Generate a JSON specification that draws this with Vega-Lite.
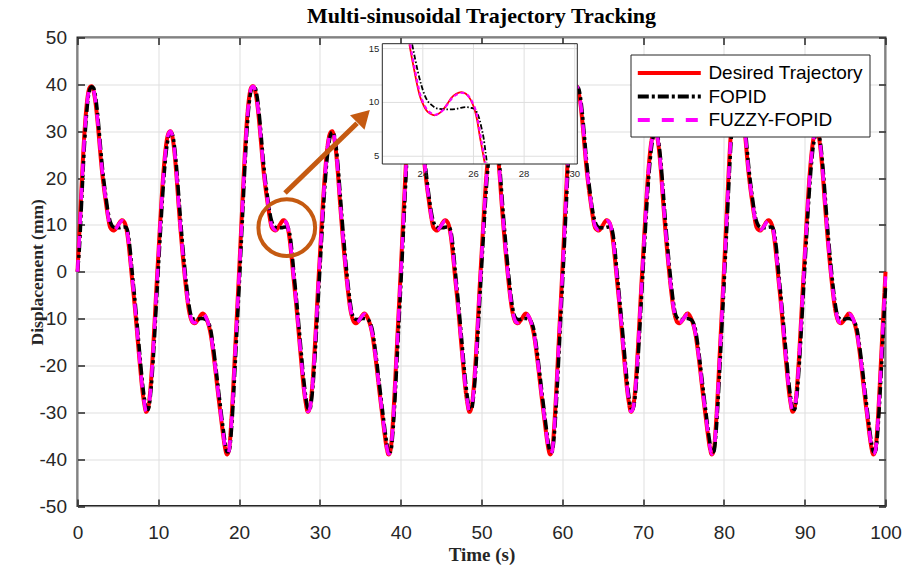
{
  "$schema": "https://vega.github.io/schema/vega-lite/v6.json",
  "width": 808,
  "height": 468.5,
  "autosize": {"type": "none"},
  "padding": {"left": 77.5, "top": 37.5, "right": 18.5, "bottom": 59},
  "background": "white",
  "title": {"text": "Multi-sinusoidal Trajectory Tracking", "font": "Liberation Serif", "fontSize": 22, "fontWeight": "bold", "color": "black", "offset": 1, "anchor": "middle"},
  "config": {
    "view": {"stroke": "#262626", "strokeWidth": 2},
    "axis": {"labelFont": "Liberation Sans", "labelFontSize": 19, "labelColor": "#262626", "titleFont": "Liberation Serif", "titleFontWeight": "bold", "titleFontSize": 19, "titleColor": "#262626", "tickColor": "#262626", "gridColor": "#dfdfdf", "gridWidth": 1, "domain": false},
    "legend": {"orient": "top-right", "offset": 16.5, "labelFont": "Liberation Sans", "labelFontSize": 19, "labelColor": "black", "symbolType": "M-3,0H3", "symbolSize": 441, "symbolOffset": 20.3, "symbolStrokeWidth": 4, "padding": 6, "strokeColor": "#262626", "fillColor": "white", "rowPadding": 0.5, "labelOffset": 26.6, "labelLimit": 400}
  },
  "datasets": {
    "main": [
{"t":0,"d":0,"f":0,"z":0},{"t":0.25,"d":9,"f":5.4,"z":7.9},{"t":0.5,"d":18,"f":14.5,"z":17},{"t":0.75,"d":26.5,"f":23.5,"z":25.6},{"t":1,"d":33,"f":30.8,"z":32.4},{"t":1.25,"d":37.3,"f":36,"z":36.9},{"t":1.5,"d":39.3,"f":38.8,"z":39.2},{"t":1.75,"d":39.6,"f":39.5,"z":39.6},{"t":2,"d":38.5,"f":39.2,"z":38.7},{"t":2.25,"d":35.8,"f":37.2,"z":36.2},{"t":2.5,"d":31.7,"f":33.5,"z":32.2},{"t":2.75,"d":26.8,"f":28.7,"z":27.4},{"t":3,"d":22,"f":23.7,"z":22.5},{"t":3.25,"d":18.2,"f":19.6,"z":18.6},{"t":3.5,"d":15,"f":16.2,"z":15.4},{"t":3.75,"d":12,"f":13.1,"z":12.3},{"t":4,"d":9.7,"f":11,"z":10},{"t":4.25,"d":9,"f":9.9,"z":9.2},{"t":4.5,"d":8.8,"f":9.5,"z":8.9},{"t":4.75,"d":9.2,"f":9.4,"z":9.2},{"t":5,"d":9.9,"f":9.4,"z":9.8},{"t":5.25,"d":10.6,"f":9.4,"z":10.5},{"t":5.5,"d":11,"f":9.5,"z":10.9},{"t":5.75,"d":10.7,"f":9.55,"z":10.7},{"t":6,"d":9.6,"f":9.5,"z":9.8},{"t":6.25,"d":7,"f":8.3,"z":7.4},{"t":6.5,"d":3,"f":5,"z":3.5},{"t":6.75,"d":-1.5,"f":0.3,"z":-1},{"t":7,"d":-5.8,"f":-4.1,"z":-5.3},{"t":7.25,"d":-10.5,"f":-8.6,"z":-10},{"t":7.5,"d":-15.5,"f":-13.5,"z":-15},{"t":7.75,"d":-20.3,"f":-18.4,"z":-19.8},{"t":8,"d":-24.8,"f":-23,"z":-24.4},{"t":8.25,"d":-28,"f":-26.7,"z":-27.7},{"t":8.5,"d":-29.9,"f":-29.1,"z":-29.8},{"t":8.75,"d":-29,"f":-29.4,"z":-29.2},{"t":9,"d":-25.5,"f":-26.9,"z":-26},{"t":9.25,"d":-19.5,"f":-21.9,"z":-20.2},{"t":9.5,"d":-12,"f":-15,"z":-12.7},{"t":9.75,"d":-4,"f":-7.2,"z":-4.7},{"t":10,"d":3.5,"f":0.5,"z":2.8},{"t":10.25,"d":11,"f":8,"z":10.3},{"t":10.5,"d":18,"f":15.2,"z":17.3},{"t":10.75,"d":23.5,"f":21.3,"z":23},{"t":11,"d":27.5,"f":25.9,"z":27.2},{"t":11.25,"d":29.5,"f":28.7,"z":29.4},{"t":11.5,"d":30,"f":29.8,"z":30},{"t":11.75,"d":28.8,"f":29.3,"z":29},{"t":12,"d":25.5,"f":26.8,"z":25.9},{"t":12.25,"d":20.5,"f":22.5,"z":21},{"t":12.5,"d":14.5,"f":16.9,"z":15.1},{"t":12.75,"d":9,"f":11.2,"z":9.5},{"t":13,"d":4,"f":6,"z":4.5},{"t":13.25,"d":-0.5,"f":1.3,"z":-0.1},{"t":13.5,"d":-4.5,"f":-2.9,"z":-4.1},{"t":13.75,"d":-7.8,"f":-6.5,"z":-7.5},{"t":14,"d":-9.8,"f":-9,"z":-9.6},{"t":14.25,"d":-10.8,"f":-9.9,"z":-10.7},{"t":14.5,"d":-11,"f":-10.2,"z":-10.9},{"t":14.75,"d":-10.6,"f":-10.2,"z":-10.6},{"t":15,"d":-10,"f":-10.1,"z":-10},{"t":15.25,"d":-9.3,"f":-10,"z":-9.4},{"t":15.5,"d":-8.9,"f":-10,"z":-9},{"t":15.75,"d":-9.3,"f":-10.1,"z":-9.3},{"t":16,"d":-10.2,"f":-10.3,"z":-10.1},{"t":16.25,"d":-11.5,"f":-11,"z":-11.4},{"t":16.5,"d":-13.5,"f":-12.5,"z":-13.3},{"t":16.75,"d":-16.5,"f":-15.3,"z":-16.2},{"t":17,"d":-20,"f":-18.6,"z":-19.6},{"t":17.25,"d":-23.8,"f":-22.3,"z":-23.4},{"t":17.5,"d":-27.5,"f":-26,"z":-27.1},{"t":17.75,"d":-31,"f":-29.6,"z":-30.6},{"t":18,"d":-34.5,"f":-33.1,"z":-34.1},{"t":18.25,"d":-37.5,"f":-36.3,"z":-37.2},{"t":18.5,"d":-39,"f":-38.4,"z":-38.9},{"t":18.75,"d":-38,"f":-38.4,"z":-38.2},{"t":19,"d":-33,"f":-35,"z":-33.6},{"t":19.25,"d":-25.5,"f":-28.5,"z":-26.3},{"t":19.5,"d":-17,"f":-20.4,"z":-17.8},{"t":19.75,"d":-8.5,"f":-11.9,"z":-9.3},
{"t":20,"d":0,"f":-3.5,"z":-1},{"t":20.25,"d":9,"f":5.4,"z":7.9},{"t":20.5,"d":18,"f":14.5,"z":17},{"t":20.75,"d":26.5,"f":23.5,"z":25.6},{"t":21,"d":33,"f":30.8,"z":32.4},{"t":21.25,"d":37.3,"f":36,"z":36.9},{"t":21.5,"d":39.3,"f":38.8,"z":39.2},{"t":21.75,"d":39.6,"f":39.5,"z":39.6},{"t":22,"d":38.5,"f":39.2,"z":38.7},{"t":22.25,"d":35.8,"f":37.2,"z":36.2},{"t":22.5,"d":31.7,"f":33.5,"z":32.2},{"t":22.75,"d":26.8,"f":28.7,"z":27.4},{"t":23,"d":22,"f":23.7,"z":22.5},{"t":23.25,"d":18.2,"f":19.6,"z":18.6},{"t":23.5,"d":15,"f":16.2,"z":15.4},{"t":23.75,"d":12,"f":13.1,"z":12.3},{"t":24,"d":9.7,"f":11,"z":10},{"t":24.25,"d":9,"f":9.9,"z":9.2},{"t":24.5,"d":8.8,"f":9.5,"z":8.9},{"t":24.75,"d":9.2,"f":9.4,"z":9.2},{"t":25,"d":9.9,"f":9.4,"z":9.8},{"t":25.25,"d":10.6,"f":9.4,"z":10.5},{"t":25.5,"d":11,"f":9.5,"z":10.9},{"t":25.75,"d":10.7,"f":9.55,"z":10.7},{"t":26,"d":9.6,"f":9.5,"z":9.8},{"t":26.25,"d":7,"f":8.3,"z":7.4},{"t":26.5,"d":3,"f":5,"z":3.5},{"t":26.75,"d":-1.5,"f":0.3,"z":-1},{"t":27,"d":-5.8,"f":-4.1,"z":-5.3},{"t":27.25,"d":-10.5,"f":-8.6,"z":-10},{"t":27.5,"d":-15.5,"f":-13.5,"z":-15},{"t":27.75,"d":-20.3,"f":-18.4,"z":-19.8},{"t":28,"d":-24.8,"f":-23,"z":-24.4},{"t":28.25,"d":-28,"f":-26.7,"z":-27.7},{"t":28.5,"d":-29.9,"f":-29.1,"z":-29.8},{"t":28.75,"d":-29,"f":-29.4,"z":-29.2},{"t":29,"d":-25.5,"f":-26.9,"z":-26},{"t":29.25,"d":-19.5,"f":-21.9,"z":-20.2},{"t":29.5,"d":-12,"f":-15,"z":-12.7},{"t":29.75,"d":-4,"f":-7.2,"z":-4.7},{"t":30,"d":3.5,"f":0.5,"z":2.8},{"t":30.25,"d":11,"f":8,"z":10.3},{"t":30.5,"d":18,"f":15.2,"z":17.3},{"t":30.75,"d":23.5,"f":21.3,"z":23},{"t":31,"d":27.5,"f":25.9,"z":27.2},{"t":31.25,"d":29.5,"f":28.7,"z":29.4},{"t":31.5,"d":30,"f":29.8,"z":30},{"t":31.75,"d":28.8,"f":29.3,"z":29},{"t":32,"d":25.5,"f":26.8,"z":25.9},{"t":32.25,"d":20.5,"f":22.5,"z":21},{"t":32.5,"d":14.5,"f":16.9,"z":15.1},{"t":32.75,"d":9,"f":11.2,"z":9.5},{"t":33,"d":4,"f":6,"z":4.5},{"t":33.25,"d":-0.5,"f":1.3,"z":-0.1},{"t":33.5,"d":-4.5,"f":-2.9,"z":-4.1},{"t":33.75,"d":-7.8,"f":-6.5,"z":-7.5},{"t":34,"d":-9.8,"f":-9,"z":-9.6},{"t":34.25,"d":-10.8,"f":-9.9,"z":-10.7},{"t":34.5,"d":-11,"f":-10.2,"z":-10.9},{"t":34.75,"d":-10.6,"f":-10.2,"z":-10.6},{"t":35,"d":-10,"f":-10.1,"z":-10},{"t":35.25,"d":-9.3,"f":-10,"z":-9.4},{"t":35.5,"d":-8.9,"f":-10,"z":-9},{"t":35.75,"d":-9.3,"f":-10.1,"z":-9.3},{"t":36,"d":-10.2,"f":-10.3,"z":-10.1},{"t":36.25,"d":-11.5,"f":-11,"z":-11.4},{"t":36.5,"d":-13.5,"f":-12.5,"z":-13.3},{"t":36.75,"d":-16.5,"f":-15.3,"z":-16.2},{"t":37,"d":-20,"f":-18.6,"z":-19.6},{"t":37.25,"d":-23.8,"f":-22.3,"z":-23.4},{"t":37.5,"d":-27.5,"f":-26,"z":-27.1},{"t":37.75,"d":-31,"f":-29.6,"z":-30.6},{"t":38,"d":-34.5,"f":-33.1,"z":-34.1},{"t":38.25,"d":-37.5,"f":-36.3,"z":-37.2},{"t":38.5,"d":-39,"f":-38.4,"z":-38.9},{"t":38.75,"d":-38,"f":-38.4,"z":-38.2},{"t":39,"d":-33,"f":-35,"z":-33.6},{"t":39.25,"d":-25.5,"f":-28.5,"z":-26.3},{"t":39.5,"d":-17,"f":-20.4,"z":-17.8},{"t":39.75,"d":-8.5,"f":-11.9,"z":-9.3},
{"t":40,"d":0,"f":-3.5,"z":-1},{"t":40.25,"d":9,"f":5.4,"z":7.9},{"t":40.5,"d":18,"f":14.5,"z":17},{"t":40.75,"d":26.5,"f":23.5,"z":25.6},{"t":41,"d":33,"f":30.8,"z":32.4},{"t":41.25,"d":37.3,"f":36,"z":36.9},{"t":41.5,"d":39.3,"f":38.8,"z":39.2},{"t":41.75,"d":39.6,"f":39.5,"z":39.6},{"t":42,"d":38.5,"f":39.2,"z":38.7},{"t":42.25,"d":35.8,"f":37.2,"z":36.2},{"t":42.5,"d":31.7,"f":33.5,"z":32.2},{"t":42.75,"d":26.8,"f":28.7,"z":27.4},{"t":43,"d":22,"f":23.7,"z":22.5},{"t":43.25,"d":18.2,"f":19.6,"z":18.6},{"t":43.5,"d":15,"f":16.2,"z":15.4},{"t":43.75,"d":12,"f":13.1,"z":12.3},{"t":44,"d":9.7,"f":11,"z":10},{"t":44.25,"d":9,"f":9.9,"z":9.2},{"t":44.5,"d":8.8,"f":9.5,"z":8.9},{"t":44.75,"d":9.2,"f":9.4,"z":9.2},{"t":45,"d":9.9,"f":9.4,"z":9.8},{"t":45.25,"d":10.6,"f":9.4,"z":10.5},{"t":45.5,"d":11,"f":9.5,"z":10.9},{"t":45.75,"d":10.7,"f":9.55,"z":10.7},{"t":46,"d":9.6,"f":9.5,"z":9.8},{"t":46.25,"d":7,"f":8.3,"z":7.4},{"t":46.5,"d":3,"f":5,"z":3.5},{"t":46.75,"d":-1.5,"f":0.3,"z":-1},{"t":47,"d":-5.8,"f":-4.1,"z":-5.3},{"t":47.25,"d":-10.5,"f":-8.6,"z":-10},{"t":47.5,"d":-15.5,"f":-13.5,"z":-15},{"t":47.75,"d":-20.3,"f":-18.4,"z":-19.8},{"t":48,"d":-24.8,"f":-23,"z":-24.4},{"t":48.25,"d":-28,"f":-26.7,"z":-27.7},{"t":48.5,"d":-29.9,"f":-29.1,"z":-29.8},{"t":48.75,"d":-29,"f":-29.4,"z":-29.2},{"t":49,"d":-25.5,"f":-26.9,"z":-26},{"t":49.25,"d":-19.5,"f":-21.9,"z":-20.2},{"t":49.5,"d":-12,"f":-15,"z":-12.7},{"t":49.75,"d":-4,"f":-7.2,"z":-4.7},{"t":50,"d":3.5,"f":0.5,"z":2.8},{"t":50.25,"d":11,"f":8,"z":10.3},{"t":50.5,"d":18,"f":15.2,"z":17.3},{"t":50.75,"d":23.5,"f":21.3,"z":23},{"t":51,"d":27.5,"f":25.9,"z":27.2},{"t":51.25,"d":29.5,"f":28.7,"z":29.4},{"t":51.5,"d":30,"f":29.8,"z":30},{"t":51.75,"d":28.8,"f":29.3,"z":29},{"t":52,"d":25.5,"f":26.8,"z":25.9},{"t":52.25,"d":20.5,"f":22.5,"z":21},{"t":52.5,"d":14.5,"f":16.9,"z":15.1},{"t":52.75,"d":9,"f":11.2,"z":9.5},{"t":53,"d":4,"f":6,"z":4.5},{"t":53.25,"d":-0.5,"f":1.3,"z":-0.1},{"t":53.5,"d":-4.5,"f":-2.9,"z":-4.1},{"t":53.75,"d":-7.8,"f":-6.5,"z":-7.5},{"t":54,"d":-9.8,"f":-9,"z":-9.6},{"t":54.25,"d":-10.8,"f":-9.9,"z":-10.7},{"t":54.5,"d":-11,"f":-10.2,"z":-10.9},{"t":54.75,"d":-10.6,"f":-10.2,"z":-10.6},{"t":55,"d":-10,"f":-10.1,"z":-10},{"t":55.25,"d":-9.3,"f":-10,"z":-9.4},{"t":55.5,"d":-8.9,"f":-10,"z":-9},{"t":55.75,"d":-9.3,"f":-10.1,"z":-9.3},{"t":56,"d":-10.2,"f":-10.3,"z":-10.1},{"t":56.25,"d":-11.5,"f":-11,"z":-11.4},{"t":56.5,"d":-13.5,"f":-12.5,"z":-13.3},{"t":56.75,"d":-16.5,"f":-15.3,"z":-16.2},{"t":57,"d":-20,"f":-18.6,"z":-19.6},{"t":57.25,"d":-23.8,"f":-22.3,"z":-23.4},{"t":57.5,"d":-27.5,"f":-26,"z":-27.1},{"t":57.75,"d":-31,"f":-29.6,"z":-30.6},{"t":58,"d":-34.5,"f":-33.1,"z":-34.1},{"t":58.25,"d":-37.5,"f":-36.3,"z":-37.2},{"t":58.5,"d":-39,"f":-38.4,"z":-38.9},{"t":58.75,"d":-38,"f":-38.4,"z":-38.2},{"t":59,"d":-33,"f":-35,"z":-33.6},{"t":59.25,"d":-25.5,"f":-28.5,"z":-26.3},{"t":59.5,"d":-17,"f":-20.4,"z":-17.8},{"t":59.75,"d":-8.5,"f":-11.9,"z":-9.3},
{"t":60,"d":0,"f":-3.5,"z":-1},{"t":60.25,"d":9,"f":5.4,"z":7.9},{"t":60.5,"d":18,"f":14.5,"z":17},{"t":60.75,"d":26.5,"f":23.5,"z":25.6},{"t":61,"d":33,"f":30.8,"z":32.4},{"t":61.25,"d":37.3,"f":36,"z":36.9},{"t":61.5,"d":39.3,"f":38.8,"z":39.2},{"t":61.75,"d":39.6,"f":39.5,"z":39.6},{"t":62,"d":38.5,"f":39.2,"z":38.7},{"t":62.25,"d":35.8,"f":37.2,"z":36.2},{"t":62.5,"d":31.7,"f":33.5,"z":32.2},{"t":62.75,"d":26.8,"f":28.7,"z":27.4},{"t":63,"d":22,"f":23.7,"z":22.5},{"t":63.25,"d":18.2,"f":19.6,"z":18.6},{"t":63.5,"d":15,"f":16.2,"z":15.4},{"t":63.75,"d":12,"f":13.1,"z":12.3},{"t":64,"d":9.7,"f":11,"z":10},{"t":64.25,"d":9,"f":9.9,"z":9.2},{"t":64.5,"d":8.8,"f":9.5,"z":8.9},{"t":64.75,"d":9.2,"f":9.4,"z":9.2},{"t":65,"d":9.9,"f":9.4,"z":9.8},{"t":65.25,"d":10.6,"f":9.4,"z":10.5},{"t":65.5,"d":11,"f":9.5,"z":10.9},{"t":65.75,"d":10.7,"f":9.55,"z":10.7},{"t":66,"d":9.6,"f":9.5,"z":9.8},{"t":66.25,"d":7,"f":8.3,"z":7.4},{"t":66.5,"d":3,"f":5,"z":3.5},{"t":66.75,"d":-1.5,"f":0.3,"z":-1},{"t":67,"d":-5.8,"f":-4.1,"z":-5.3},{"t":67.25,"d":-10.5,"f":-8.6,"z":-10},{"t":67.5,"d":-15.5,"f":-13.5,"z":-15},{"t":67.75,"d":-20.3,"f":-18.4,"z":-19.8},{"t":68,"d":-24.8,"f":-23,"z":-24.4},{"t":68.25,"d":-28,"f":-26.7,"z":-27.7},{"t":68.5,"d":-29.9,"f":-29.1,"z":-29.8},{"t":68.75,"d":-29,"f":-29.4,"z":-29.2},{"t":69,"d":-25.5,"f":-26.9,"z":-26},{"t":69.25,"d":-19.5,"f":-21.9,"z":-20.2},{"t":69.5,"d":-12,"f":-15,"z":-12.7},{"t":69.75,"d":-4,"f":-7.2,"z":-4.7},{"t":70,"d":3.5,"f":0.5,"z":2.8},{"t":70.25,"d":11,"f":8,"z":10.3},{"t":70.5,"d":18,"f":15.2,"z":17.3},{"t":70.75,"d":23.5,"f":21.3,"z":23},{"t":71,"d":27.5,"f":25.9,"z":27.2},{"t":71.25,"d":29.5,"f":28.7,"z":29.4},{"t":71.5,"d":30,"f":29.8,"z":30},{"t":71.75,"d":28.8,"f":29.3,"z":29},{"t":72,"d":25.5,"f":26.8,"z":25.9},{"t":72.25,"d":20.5,"f":22.5,"z":21},{"t":72.5,"d":14.5,"f":16.9,"z":15.1},{"t":72.75,"d":9,"f":11.2,"z":9.5},{"t":73,"d":4,"f":6,"z":4.5},{"t":73.25,"d":-0.5,"f":1.3,"z":-0.1},{"t":73.5,"d":-4.5,"f":-2.9,"z":-4.1},{"t":73.75,"d":-7.8,"f":-6.5,"z":-7.5},{"t":74,"d":-9.8,"f":-9,"z":-9.6},{"t":74.25,"d":-10.8,"f":-9.9,"z":-10.7},{"t":74.5,"d":-11,"f":-10.2,"z":-10.9},{"t":74.75,"d":-10.6,"f":-10.2,"z":-10.6},{"t":75,"d":-10,"f":-10.1,"z":-10},{"t":75.25,"d":-9.3,"f":-10,"z":-9.4},{"t":75.5,"d":-8.9,"f":-10,"z":-9},{"t":75.75,"d":-9.3,"f":-10.1,"z":-9.3},{"t":76,"d":-10.2,"f":-10.3,"z":-10.1},{"t":76.25,"d":-11.5,"f":-11,"z":-11.4},{"t":76.5,"d":-13.5,"f":-12.5,"z":-13.3},{"t":76.75,"d":-16.5,"f":-15.3,"z":-16.2},{"t":77,"d":-20,"f":-18.6,"z":-19.6},{"t":77.25,"d":-23.8,"f":-22.3,"z":-23.4},{"t":77.5,"d":-27.5,"f":-26,"z":-27.1},{"t":77.75,"d":-31,"f":-29.6,"z":-30.6},{"t":78,"d":-34.5,"f":-33.1,"z":-34.1},{"t":78.25,"d":-37.5,"f":-36.3,"z":-37.2},{"t":78.5,"d":-39,"f":-38.4,"z":-38.9},{"t":78.75,"d":-38,"f":-38.4,"z":-38.2},{"t":79,"d":-33,"f":-35,"z":-33.6},{"t":79.25,"d":-25.5,"f":-28.5,"z":-26.3},{"t":79.5,"d":-17,"f":-20.4,"z":-17.8},{"t":79.75,"d":-8.5,"f":-11.9,"z":-9.3},
{"t":80,"d":0,"f":-3.5,"z":-1},{"t":80.25,"d":9,"f":5.4,"z":7.9},{"t":80.5,"d":18,"f":14.5,"z":17},{"t":80.75,"d":26.5,"f":23.5,"z":25.6},{"t":81,"d":33,"f":30.8,"z":32.4},{"t":81.25,"d":37.3,"f":36,"z":36.9},{"t":81.5,"d":39.3,"f":38.8,"z":39.2},{"t":81.75,"d":39.6,"f":39.5,"z":39.6},{"t":82,"d":38.5,"f":39.2,"z":38.7},{"t":82.25,"d":35.8,"f":37.2,"z":36.2},{"t":82.5,"d":31.7,"f":33.5,"z":32.2},{"t":82.75,"d":26.8,"f":28.7,"z":27.4},{"t":83,"d":22,"f":23.7,"z":22.5},{"t":83.25,"d":18.2,"f":19.6,"z":18.6},{"t":83.5,"d":15,"f":16.2,"z":15.4},{"t":83.75,"d":12,"f":13.1,"z":12.3},{"t":84,"d":9.7,"f":11,"z":10},{"t":84.25,"d":9,"f":9.9,"z":9.2},{"t":84.5,"d":8.8,"f":9.5,"z":8.9},{"t":84.75,"d":9.2,"f":9.4,"z":9.2},{"t":85,"d":9.9,"f":9.4,"z":9.8},{"t":85.25,"d":10.6,"f":9.4,"z":10.5},{"t":85.5,"d":11,"f":9.5,"z":10.9},{"t":85.75,"d":10.7,"f":9.55,"z":10.7},{"t":86,"d":9.6,"f":9.5,"z":9.8},{"t":86.25,"d":7,"f":8.3,"z":7.4},{"t":86.5,"d":3,"f":5,"z":3.5},{"t":86.75,"d":-1.5,"f":0.3,"z":-1},{"t":87,"d":-5.8,"f":-4.1,"z":-5.3},{"t":87.25,"d":-10.5,"f":-8.6,"z":-10},{"t":87.5,"d":-15.5,"f":-13.5,"z":-15},{"t":87.75,"d":-20.3,"f":-18.4,"z":-19.8},{"t":88,"d":-24.8,"f":-23,"z":-24.4},{"t":88.25,"d":-28,"f":-26.7,"z":-27.7},{"t":88.5,"d":-29.9,"f":-29.1,"z":-29.8},{"t":88.75,"d":-29,"f":-29.4,"z":-29.2},{"t":89,"d":-25.5,"f":-26.9,"z":-26},{"t":89.25,"d":-19.5,"f":-21.9,"z":-20.2},{"t":89.5,"d":-12,"f":-15,"z":-12.7},{"t":89.75,"d":-4,"f":-7.2,"z":-4.7},{"t":90,"d":3.5,"f":0.5,"z":2.8},{"t":90.25,"d":11,"f":8,"z":10.3},{"t":90.5,"d":18,"f":15.2,"z":17.3},{"t":90.75,"d":23.5,"f":21.3,"z":23},{"t":91,"d":27.5,"f":25.9,"z":27.2},{"t":91.25,"d":29.5,"f":28.7,"z":29.4},{"t":91.5,"d":30,"f":29.8,"z":30},{"t":91.75,"d":28.8,"f":29.3,"z":29},{"t":92,"d":25.5,"f":26.8,"z":25.9},{"t":92.25,"d":20.5,"f":22.5,"z":21},{"t":92.5,"d":14.5,"f":16.9,"z":15.1},{"t":92.75,"d":9,"f":11.2,"z":9.5},{"t":93,"d":4,"f":6,"z":4.5},{"t":93.25,"d":-0.5,"f":1.3,"z":-0.1},{"t":93.5,"d":-4.5,"f":-2.9,"z":-4.1},{"t":93.75,"d":-7.8,"f":-6.5,"z":-7.5},{"t":94,"d":-9.8,"f":-9,"z":-9.6},{"t":94.25,"d":-10.8,"f":-9.9,"z":-10.7},{"t":94.5,"d":-11,"f":-10.2,"z":-10.9},{"t":94.75,"d":-10.6,"f":-10.2,"z":-10.6},{"t":95,"d":-10,"f":-10.1,"z":-10},{"t":95.25,"d":-9.3,"f":-10,"z":-9.4},{"t":95.5,"d":-8.9,"f":-10,"z":-9},{"t":95.75,"d":-9.3,"f":-10.1,"z":-9.3},{"t":96,"d":-10.2,"f":-10.3,"z":-10.1},{"t":96.25,"d":-11.5,"f":-11,"z":-11.4},{"t":96.5,"d":-13.5,"f":-12.5,"z":-13.3},{"t":96.75,"d":-16.5,"f":-15.3,"z":-16.2},{"t":97,"d":-20,"f":-18.6,"z":-19.6},{"t":97.25,"d":-23.8,"f":-22.3,"z":-23.4},{"t":97.5,"d":-27.5,"f":-26,"z":-27.1},{"t":97.75,"d":-31,"f":-29.6,"z":-30.6},{"t":98,"d":-34.5,"f":-33.1,"z":-34.1},{"t":98.25,"d":-37.5,"f":-36.3,"z":-37.2},{"t":98.5,"d":-39,"f":-38.4,"z":-38.9},{"t":98.75,"d":-38,"f":-38.4,"z":-38.2},{"t":99,"d":-33,"f":-35,"z":-33.6},{"t":99.25,"d":-25.5,"f":-28.5,"z":-26.3},{"t":99.5,"d":-17,"f":-20.4,"z":-17.8},{"t":99.75,"d":-8.5,"f":-11.9,"z":-9.3},
{"t":100,"d":0,"f":-3.5,"z":-1}
    ],
    "insetD": [
{"t":23.47,"y":15.4},{"t":23.57,"y":14.1},{"t":23.67,"y":12.9},{"t":23.77,"y":11.7},{"t":23.87,"y":10.7},{"t":24.0,"y":9.9},{"t":24.13,"y":9.3},{"t":24.3,"y":8.95},{"t":24.46,"y":8.8},{"t":24.62,"y":8.95},{"t":24.79,"y":9.3},{"t":24.95,"y":9.8},{"t":25.12,"y":10.4},{"t":25.32,"y":10.8},{"t":25.52,"y":10.96},{"t":25.7,"y":10.8},{"t":25.85,"y":10.4},{"t":25.95,"y":9.95},{"t":26.05,"y":9.3},{"t":26.15,"y":8.3},{"t":26.24,"y":7.0},{"t":26.34,"y":5.7},{"t":26.44,"y":4.4}
    ],
    "insetF": [
{"t":23.58,"y":15.4},{"t":23.7,"y":14.0},{"t":23.8,"y":12.9},{"t":23.93,"y":11.7},{"t":24.07,"y":10.7},{"t":24.2,"y":10.1},{"t":24.33,"y":9.8},{"t":24.5,"y":9.5},{"t":24.66,"y":9.4},{"t":25.0,"y":9.35},{"t":25.32,"y":9.4},{"t":25.5,"y":9.5},{"t":25.72,"y":9.56},{"t":25.9,"y":9.5},{"t":26.05,"y":9.4},{"t":26.15,"y":9.0},{"t":26.24,"y":8.4},{"t":26.32,"y":7.6},{"t":26.4,"y":6.7},{"t":26.47,"y":5.5},{"t":26.53,"y":4.4}
    ],
    "insetZ": [
{"t":23.5,"y":15.4},{"t":23.6,"y":14.1},{"t":23.7,"y":12.9},{"t":23.8,"y":11.7},{"t":23.9,"y":10.7},{"t":24.03,"y":9.9},{"t":24.16,"y":9.35},{"t":24.33,"y":9.0},{"t":24.49,"y":8.85},{"t":24.65,"y":9.0},{"t":24.82,"y":9.35},{"t":24.98,"y":9.85},{"t":25.15,"y":10.4},{"t":25.35,"y":10.75},{"t":25.55,"y":10.9},{"t":25.73,"y":10.75},{"t":25.88,"y":10.35},{"t":25.98,"y":9.9},{"t":26.08,"y":9.3},{"t":26.18,"y":8.3},{"t":26.27,"y":7.0},{"t":26.37,"y":5.7},{"t":26.47,"y":4.4}
    ]
  },
  "layer": [
    {
      "layer": [
        {
          "data": {"name": "main"},
          "mark": {"type": "line", "strokeWidth": 4, "interpolate": "monotone", "strokeCap": "butt"},
          "encoding": {
            "x": {"field": "t", "type": "quantitative", "scale": {"domain": [0, 100], "nice": false, "zero": false},
                  "axis": {"orient": "bottom", "title": "Time (s)", "values": [0,10,20,30,40,50,60,70,80,90,100], "grid": true, "tickSize": -7, "tickWidth": 1.5, "labelPadding": 24, "titlePadding": 3, "labelFlush": false}},
            "y": {"field": "d", "type": "quantitative", "scale": {"domain": [-50, 50], "nice": false, "zero": false},
                  "axis": {"orient": "left", "title": "Displacement (mm)", "titleFontSize": 17.5, "values": [-50,-40,-30,-20,-10,0,10,20,30,40,50], "labelExpr": "toString(datum.value)", "grid": true, "tickSize": -7, "tickWidth": 1.5, "labelPadding": 18, "titlePadding": -7}},
            "color": {"datum": "Desired Trajectory", "title": null, "scale": {"domain": ["Desired Trajectory", "FOPID", "FUZZY-FOPID"], "range": ["#ff0000", "#000000", "#ff00ff"]}},
            "strokeDash": {"datum": "Desired Trajectory", "title": null, "scale": {"domain": ["Desired Trajectory", "FOPID", "FUZZY-FOPID"], "range": [[1, 0], [11, 3, 3, 3], [12, 12]]}}
          }
        },
        {
          "data": {"name": "main"},
          "mark": {"type": "line", "strokeWidth": 3.5, "interpolate": "monotone", "strokeCap": "butt"},
          "encoding": {
            "x": {"field": "t", "type": "quantitative", "scale": {"domain": [0, 100], "nice": false, "zero": false},
                  "axis": {"orient": "top", "labels": false, "title": null, "grid": false, "values": [0,10,20,30,40,50,60,70,80,90,100], "tickSize": -7, "tickWidth": 1.5}},
            "y": {"field": "f", "type": "quantitative", "scale": {"domain": [-50, 50], "nice": false, "zero": false},
                  "axis": {"orient": "right", "labels": false, "title": null, "grid": false, "values": [-50,-40,-30,-20,-10,0,10,20,30,40,50], "tickSize": -7, "tickWidth": 1.5}},
            "color": {"datum": "FOPID", "title": null},
            "strokeDash": {"datum": "FOPID", "title": null}
          }
        },
        {
          "data": {"name": "main"},
          "mark": {"type": "line", "strokeWidth": 3.5, "interpolate": "monotone", "strokeCap": "butt"},
          "encoding": {
            "x": {"field": "t", "type": "quantitative", "axis": null},
            "y": {"field": "z", "type": "quantitative", "axis": null},
            "color": {"datum": "FUZZY-FOPID", "title": null},
            "strokeDash": {"datum": "FUZZY-FOPID", "title": null}
          }
        },
        {
          "data": {"values": [{"t": 25.9, "y": 9.4}]},
          "mark": {"type": "point", "shape": "circle", "filled": false, "size": 3217, "stroke": "#C55A11", "strokeWidth": 4, "opacity": 1},
          "encoding": {
            "x": {"field": "t", "type": "quantitative", "axis": null},
            "y": {"field": "y", "type": "quantitative", "axis": null}
          }
        },
        {
          "data": {"values": [{"t": 25.68, "y": 16.8}, {"t": 34.6, "y": 31.7}]},
          "mark": {"type": "line", "stroke": "#C55A11", "strokeWidth": 5, "strokeCap": "butt"},
          "encoding": {
            "x": {"field": "t", "type": "quantitative", "axis": null},
            "y": {"field": "y", "type": "quantitative", "axis": null}
          }
        },
        {
          "data": {"values": [{"t": 35.4, "y": 33.2}]},
          "mark": {"type": "point", "shape": "triangle-up", "filled": true, "size": 420, "angle": 45, "fill": "#C55A11", "opacity": 1, "strokeWidth": 0},
          "encoding": {
            "x": {"field": "t", "type": "quantitative", "axis": null},
            "y": {"field": "y", "type": "quantitative", "axis": null}
          }
        }
      ],
      "resolve": {"axis": {"x": "independent", "y": "independent"}}
    },
    {
      "layer": [
        {
          "data": {"values": [{"x1": 22.4, "x2": 30.1, "y1": 4.28, "y2": 15.46}]},
          "mark": {"type": "rect", "fill": "white", "strokeWidth": 0},
          "encoding": {
            "x": {"field": "x1", "type": "quantitative", "scale": {"domain": [22.4, 30.1], "range": [304.8, 499.8], "nice": false, "zero": false}, "axis": null},
            "x2": {"field": "x2"},
            "y": {"field": "y1", "type": "quantitative", "scale": {"domain": [4.28, 15.46], "range": [126.5, 6.2], "nice": false, "zero": false}, "axis": null},
            "y2": {"field": "y2"}
          }
        },
        {
          "data": {"values": [{"g": 24}, {"g": 26}, {"g": 28}, {"g": 30}]},
          "mark": {"type": "rule", "stroke": "#dfdfdf", "strokeWidth": 1},
          "encoding": {
            "x": {"field": "g", "type": "quantitative", "axis": null},
            "y": {"datum": 4.28, "type": "quantitative", "axis": null},
            "y2": {"datum": 15.46}
          }
        },
        {
          "data": {"values": [{"g": 5}, {"g": 10}, {"g": 15}]},
          "mark": {"type": "rule", "stroke": "#dfdfdf", "strokeWidth": 1},
          "encoding": {
            "y": {"field": "g", "type": "quantitative", "axis": null},
            "x": {"datum": 22.4, "type": "quantitative", "axis": null},
            "x2": {"datum": 30.1}
          }
        },
        {
          "data": {"values": [{"g": 24}, {"g": 26}, {"g": 28}, {"g": 30}]},
          "mark": {"type": "text", "font": "Liberation Sans", "fontSize": 9.5, "fill": "#262626", "baseline": "top", "align": "center", "dy": 5},
          "encoding": {
            "x": {"field": "g", "type": "quantitative", "axis": null},
            "y": {"datum": 4.28, "type": "quantitative", "axis": null},
            "text": {"field": "g", "type": "quantitative"}
          }
        },
        {
          "data": {"values": [{"g": 5}, {"g": 10}, {"g": 15}]},
          "mark": {"type": "text", "font": "Liberation Sans", "fontSize": 9.5, "fill": "#262626", "baseline": "middle", "align": "right", "dx": -3},
          "encoding": {
            "y": {"field": "g", "type": "quantitative", "axis": null},
            "x": {"datum": 22.4, "type": "quantitative", "axis": null},
            "text": {"field": "g", "type": "quantitative"}
          }
        },
        {
          "data": {"name": "insetD"},
          "mark": {"type": "line", "stroke": "#ff0000", "strokeWidth": 1.8, "interpolate": "monotone"},
          "encoding": {
            "x": {"field": "t", "type": "quantitative", "axis": null},
            "y": {"field": "y", "type": "quantitative", "axis": null}
          }
        },
        {
          "data": {"name": "insetF"},
          "mark": {"type": "line", "stroke": "#000000", "strokeWidth": 1.8, "interpolate": "monotone", "strokeDash": [5, 2, 1.5, 2], "strokeCap": "butt"},
          "encoding": {
            "x": {"field": "t", "type": "quantitative", "axis": null},
            "y": {"field": "y", "type": "quantitative", "axis": null}
          }
        },
        {
          "data": {"name": "insetZ"},
          "mark": {"type": "line", "stroke": "#ff00ff", "strokeWidth": 2.2, "interpolate": "monotone", "strokeDash": [4, 3], "strokeCap": "butt"},
          "encoding": {
            "x": {"field": "t", "type": "quantitative", "axis": null},
            "y": {"field": "y", "type": "quantitative", "axis": null}
          }
        },
        {
          "data": {"values": [{"x1": 22.4, "x2": 30.1, "y1": 4.28, "y2": 15.46}]},
          "mark": {"type": "rect", "fill": "transparent", "stroke": "#262626", "strokeWidth": 1},
          "encoding": {
            "x": {"field": "x1", "type": "quantitative", "axis": null},
            "x2": {"field": "x2"},
            "y": {"field": "y1", "type": "quantitative", "axis": null},
            "y2": {"field": "y2"}
          }
        }
      ]
    }
  ],
  "resolve": {"scale": {"x": "independent", "y": "independent"}, "axis": {"x": "independent", "y": "independent"}}
}
